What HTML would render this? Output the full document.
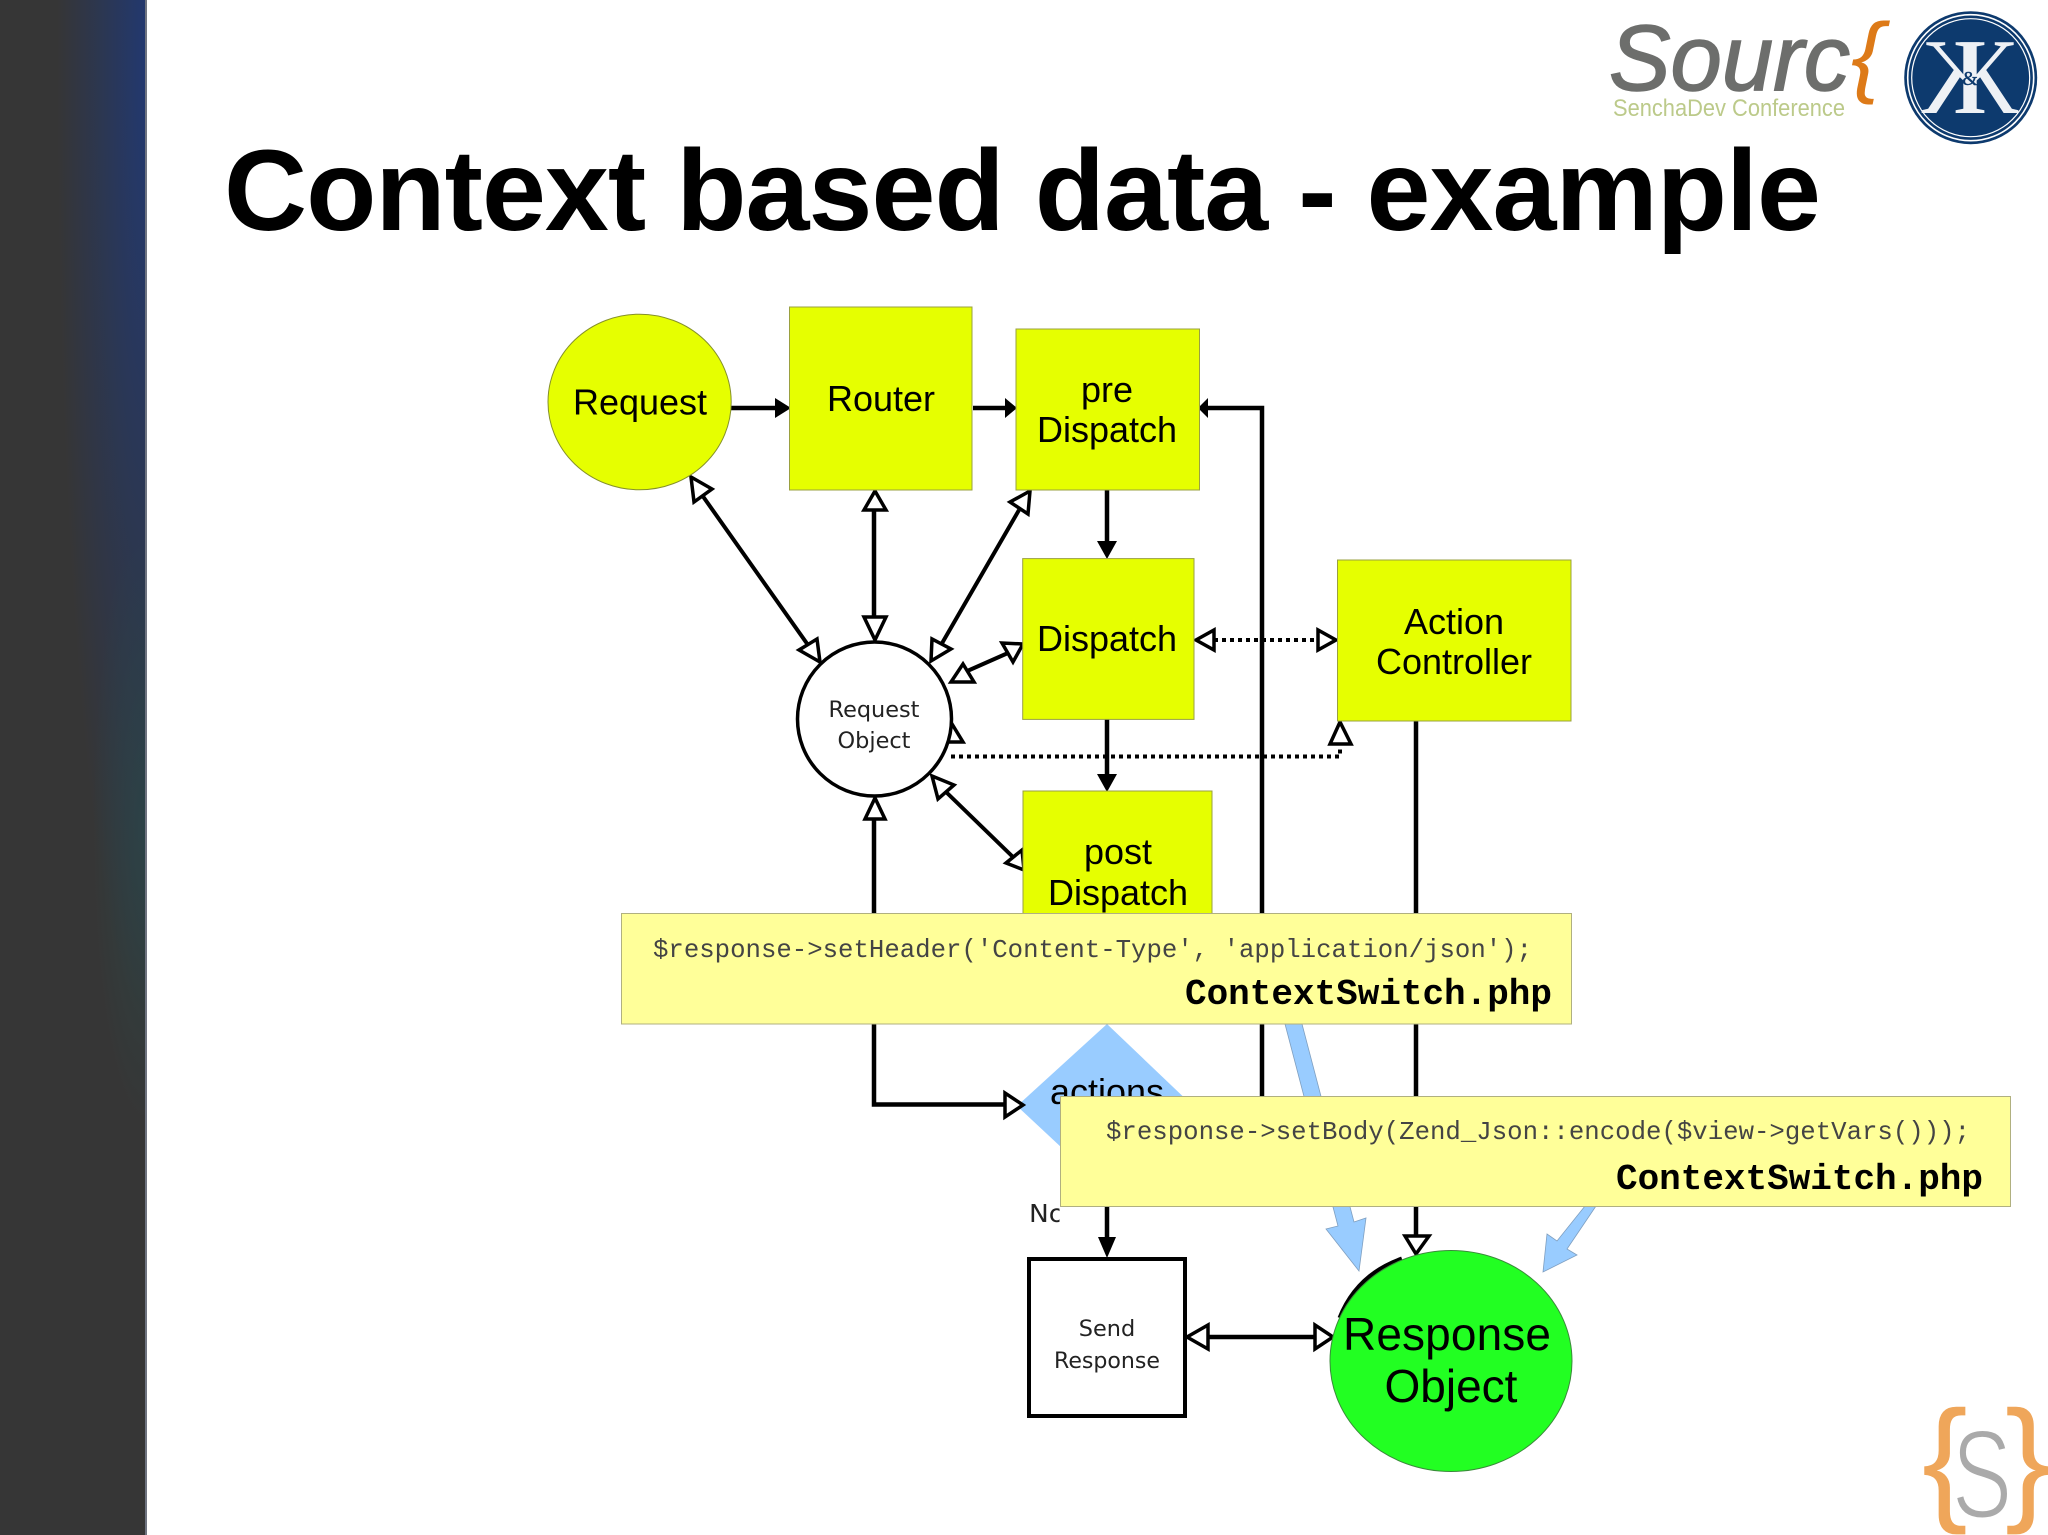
<!DOCTYPE html>
<html><head><meta charset="utf-8"><style>
html,body{margin:0;padding:0;background:#fff}
#w{position:relative;width:2048px;height:1535px;overflow:hidden;background:#fff}
#side{position:absolute;left:0;top:0;width:147px;height:1535px;background:
radial-gradient(ellipse 55px 300px at 147px 830px,rgba(40,75,75,.6),rgba(40,75,75,0) 100%),
radial-gradient(ellipse 90px 950px at 147px 60px,rgba(34,56,112,1),rgba(40,55,90,.6) 60%,rgba(54,54,54,0) 100%),
#363636;border-right:2px solid #6f7480;box-sizing:border-box}
svg{position:absolute;left:0;top:0}
text{font-family:"Liberation Sans",sans-serif}
.l{font-size:36px;fill:#000;text-anchor:middle}
.d{font-family:"DejaVu Sans",sans-serif;font-size:22.4px;fill:#222;text-anchor:middle}
.m{font-family:"Liberation Mono",monospace;font-size:25.7px;fill:#444}
.b{font-family:"Liberation Mono",monospace;font-size:36px;font-weight:bold;fill:#000}
.ln{stroke:#000;stroke-width:4.5;fill:none}
.dt{stroke:#000;stroke-width:4;fill:none;stroke-dasharray:4 4}
.op{fill:#fff;stroke:#000;stroke-width:3.5}
</style></head><body><div id="w"><div id="side"></div>
<svg width="2048" height="1535" viewBox="0 0 2048 1535" xmlns="http://www.w3.org/2000/svg">
<defs><clipPath id="noclip"><rect x="1020" y="1190" width="39.5" height="50"/></clipPath></defs>
<text x="224" y="230" font-size="115" font-weight="bold" fill="#000" textLength="1597">Context based data - example</text>

<!-- logos -->
<text x="1609" y="90" font-size="93" font-style="italic" fill="#6d6e6c" stroke="#6d6e6c" stroke-width="1.5" textLength="241" lengthAdjust="spacingAndGlyphs">Sourc</text>
<text x="1851" y="86" font-size="90" font-style="italic" fill="#dd7a18" textLength="32" lengthAdjust="spacingAndGlyphs">{</text>
<text x="1613" y="116" font-size="24" fill="#bcca8a" textLength="232" lengthAdjust="spacingAndGlyphs">SenchaDev Conference</text>
<circle cx="1970.7" cy="77.7" r="66.5" fill="#0d3a6e"/>
<circle cx="1970.7" cy="77.7" r="63" fill="none" stroke="#fff" stroke-width="1.6"/>
<circle cx="1970.7" cy="77.7" r="59" fill="none" stroke="#fff" stroke-width="1.2"/>
<text transform="translate(1970,113) scale(.85,1)" x="-20" y="0" font-size="108" style="font-family:'Liberation Serif',serif" fill="#eef1f5">K</text>
<text transform="translate(1970,113) scale(-.85,1)" x="-20" y="0" font-size="108" style="font-family:'Liberation Serif',serif" fill="#eef1f5">K</text>
<text x="1970" y="85" font-size="20" text-anchor="middle" style="font-family:'Liberation Serif',serif" fill="#0d3a6e" stroke="#0d3a6e" stroke-width=".4">&amp;</text>

<text x="1922" y="1506" font-size="137" fill="#efa65a">{</text>
<text x="2005" y="1506" font-size="137" fill="#efa65a">}</text>
<text transform="translate(1982,1518) scale(.72,1)" x="0" y="0" font-size="126" text-anchor="middle" fill="#aaa" stroke="#fff" stroke-width="3">S</text>

<!-- connectors -->
<path class="ln" d="M731 408H780M973 408H1008M1107 490V545M1107 719V778M1207 408H1262V1100M1416 721V1240M874 510V618M874 820V1104.5H1006M1107 1190V1242M1209 1337H1315"/>
<path class="ln" style="stroke-width:4" d="M702 495L808 645M1019 510L941 645M1008 653L965 672M944 790L1014 858"/>
<path class="dt" d="M1214 640H1318M951 756.5H1340V746"/>
<path d="M791 408L775 398V418ZM1017 408L1005 398V418ZM1198 408L1208 398V418ZM1107 559L1097 541H1117ZM1107 792L1097 774H1117ZM1107 1258L1098 1237H1116Z" fill="#000"/>
<polygon class="op" points="691,477 712,489 694,502"/>
<polygon class="op" points="820,662 799,650 817,639"/>
<polygon class="op" points="1030,491 1010,502 1028,514"/>
<polygon class="op" points="931,661 932,639 951,649"/>
<polygon class="op" points="1023,644 1002,643 1013,662"/>
<polygon class="op" points="963,664 951,682 974,682"/>
<polygon class="op" points="932,776 954,785 938,799"/>
<polygon class="op" points="1024,870 1006,863 1022,850"/>
<polygon class="op" points="952,724 940,742 963,742"/>
<polygon class="op" points="875,491 864,510 886,510"/>
<polygon class="op" points="875,640 864,617 886,617"/>
<polygon class="op" points="875,798 865,819 885,819"/>
<polygon class="op" points="1340,722 1330,744 1351,744"/>
<polygon class="op" points="1196,640 1214,630 1214,650"/>
<polygon class="op" points="1336,640 1318,630 1318,650"/>
<polygon class="op" points="1416,1254 1405,1236 1429,1236"/>
<polygon class="op" points="1187,1337 1208,1325 1208,1349"/>
<polygon class="op" points="1333,1337 1315,1325 1315,1349"/>

<!-- shapes -->
<ellipse cx="639.6" cy="402" rx="91.6" ry="87.8" fill="#e6ff00" stroke="#85902a" stroke-width="1"/>
<rect x="789.5" y="307" width="182.5" height="183" fill="#e6ff00" stroke="#9aa040" stroke-width="1"/>
<rect x="1016" y="329" width="183.5" height="161" fill="#e6ff00" stroke="#9aa040" stroke-width="1"/>
<rect x="1022.7" y="558.6" width="171.3" height="160.8" fill="#e6ff00" stroke="#9aa040" stroke-width="1"/>
<rect x="1023" y="791" width="189" height="125" fill="#e6ff00" stroke="#9aa040" stroke-width="1"/>
<rect x="1337.5" y="560" width="233.5" height="161" fill="#e6ff00" stroke="#9aa040" stroke-width="1"/>
<ellipse cx="874.5" cy="719" rx="77" ry="77" fill="#fff" stroke="#000" stroke-width="3.5"/>
<polygon points="1107,1024 1193,1106 1107,1190 1017,1106" fill="#99ccff"/>
<polygon class="op" points="1023,1105 1005,1093 1005,1117"/>
<rect x="1029" y="1259" width="156" height="157" fill="#fff" stroke="#000" stroke-width="4"/>
<path d="M1340 1318Q1357 1275 1402 1259" fill="none" stroke="#000" stroke-width="5"/>
<ellipse cx="1451" cy="1361" rx="121" ry="110.5" fill="#22ff22" stroke="#3a8a3a" stroke-width="1"/>
<polygon points="1285,1024 1302,1024 1354,1222 1366,1218 1359,1271 1326,1229 1338,1226" fill="#99ccff" stroke="#7f9fc0" stroke-width=".8"/>
<polygon points="1585,1206 1596,1206 1567,1249 1577,1255 1543,1272 1547,1234 1557,1241" fill="#99ccff" stroke="#7f9fc0" stroke-width=".8"/>

<!-- labels -->
<text class="l" x="640" y="414.5" textLength="134">Request</text>
<text class="l" x="881" y="411">Router</text>
<text class="l" x="1107" y="402">pre</text>
<text class="l" x="1107" y="442">Dispatch</text>
<text class="l" x="1107" y="651">Dispatch</text>
<text class="l" x="1118" y="864">post</text>
<text class="l" x="1118" y="905">Dispatch</text>
<text class="l" x="1454" y="634">Action</text>
<text class="l" x="1454" y="674">Controller</text>
<text class="l" x="1107" y="1104">actions</text>
<text class="d" x="874" y="717">Request</text>
<text class="d" x="874" y="748">Object</text>
<text class="d" x="1107" y="1336">Send</text>
<text class="d" x="1107" y="1368" textLength="106" lengthAdjust="spacingAndGlyphs">Response</text>
<text clip-path="url(#noclip)" x="1029" y="1222" style="font-family:'DejaVu Sans',sans-serif;font-size:25px;fill:#222" textLength="36" lengthAdjust="spacingAndGlyphs">No</text>
<text x="1447" y="1350" font-size="46" text-anchor="middle" textLength="208">Response</text>
<text x="1451" y="1402" font-size="46" text-anchor="middle">Object</text>

<!-- notes -->
<rect x="621.5" y="913.5" width="950" height="110.5" fill="#ffff99" stroke="#b0b080" stroke-width="1"/>
<text class="m" x="653" y="957" textLength="879">$response-&gt;setHeader('Content-Type', 'application/json');</text>
<text class="b" x="1185" y="1004" textLength="367">ContextSwitch.php</text>
<rect x="1060.5" y="1096.5" width="950" height="110" fill="#ffff99" stroke="#b0b080" stroke-width="1"/>
<text class="m" x="1106" y="1139" textLength="864">$response-&gt;setBody(Zend_Json::encode($view-&gt;getVars()));</text>
<text class="b" x="1616" y="1189" textLength="367">ContextSwitch.php</text>
</svg></div></body></html>
